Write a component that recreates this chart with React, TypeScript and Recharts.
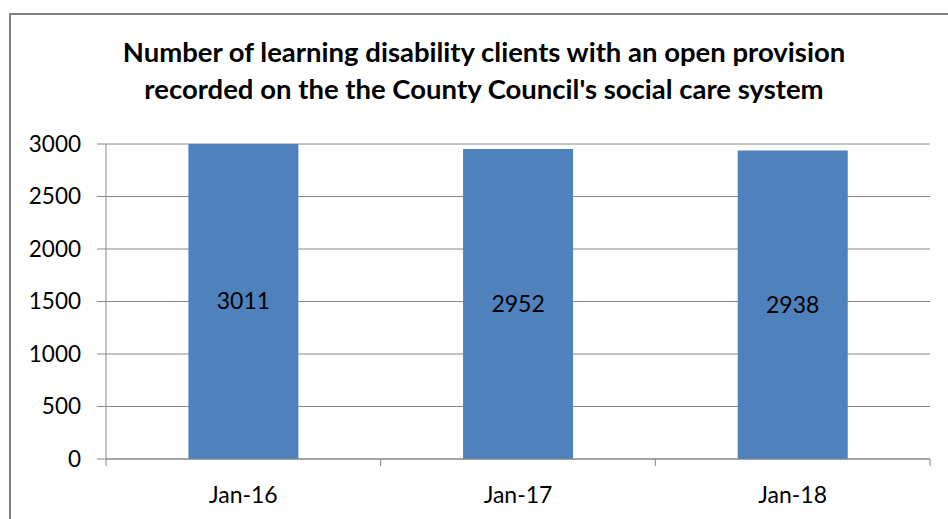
import { BarChart, Bar, XAxis, YAxis, CartesianGrid, LabelList } from 'recharts';

const months = ['Jan-16', 'Jan-17', 'Jan-18'];
const clients = [3011, 2952, 2938];
const yTicks = [0, 500, 1000, 1500, 2000, 2500, 3000];
const titleLines = [
  'Number of learning disability clients with an open provision',
  "recorded on the the County Council's social care system",
];

const data = months.map((month, i) => ({ month, clients: clients[i] }));

const FONT = 'Lato, "Open Sans", sans-serif';
const AXIS_GREY = '#868686';

const MonthTick = (props: any) => {
  const { x, y, payload, index } = props;
  const half = payload.offset || 0;
  return (
    <g>
      <line x1={x - half} x2={x - half} y1={y} y2={y + 7} stroke={AXIS_GREY} />
      {index === months.length - 1 && (
        <line x1={x + half} x2={x + half} y1={y} y2={y + 7} stroke={AXIS_GREY} />
      )}
      <text x={x} y={y + 44} textAnchor="middle" fill="#000" fontSize={23} fontFamily={FONT}>
        {payload.value}
      </text>
    </g>
  );
};

export default function App() {
  return (
    <div style={{ position: 'absolute', left: 0, top: 0, width: 948, height: 519, overflow: 'hidden', background: '#fff' }}>
      <div
        style={{
          position: 'absolute',
          left: 9,
          top: 13,
          width: 960,
          height: 540,
          border: '2px solid #7f7f7f',
          boxSizing: 'border-box',
        }}
      />
      <div
        style={{
          position: 'absolute',
          left: 34,
          top: 33,
          width: 900,
          textAlign: 'center',
          fontFamily: FONT,
          fontWeight: 'bold',
          fontSize: 27.5,
          lineHeight: '37px',
          color: '#000',
        }}
      >
        {titleLines.map((t) => (
          <div key={t}>{t}</div>
        ))}
      </div>
      <div style={{ position: 'absolute', left: 0, top: 0 }}>
        <BarChart
          width={948}
          height={519}
          data={data}
          margin={{ top: 144, right: 18, left: 46, bottom: 30 }}
          barCategoryGap="30%"
        >
          <CartesianGrid vertical={false} stroke={AXIS_GREY} />
          <XAxis
            dataKey="month"
            axisLine={{ stroke: AXIS_GREY }}
            tickLine={false}
            tickSize={0}
            tickMargin={0}
            height={30}
            tick={<MonthTick />}
            interval={0}
          />
          <YAxis
            width={60}
            domain={[0, 3000]}
            ticks={yTicks}
            allowDataOverflow
            axisLine={{ stroke: AXIS_GREY }}
            tickLine={{ stroke: AXIS_GREY }}
            tickSize={9}
            tickMargin={16}
            tick={{ fill: '#000', fontSize: 22.5, fontFamily: FONT }}
          />
          <Bar dataKey="clients" fill="#4f81bd" isAnimationActive={false}>
            <LabelList dataKey="clients" position="center" fill="#000" fontSize={23} fontFamily={FONT} />
          </Bar>
        </BarChart>
      </div>
    </div>
  );
}
